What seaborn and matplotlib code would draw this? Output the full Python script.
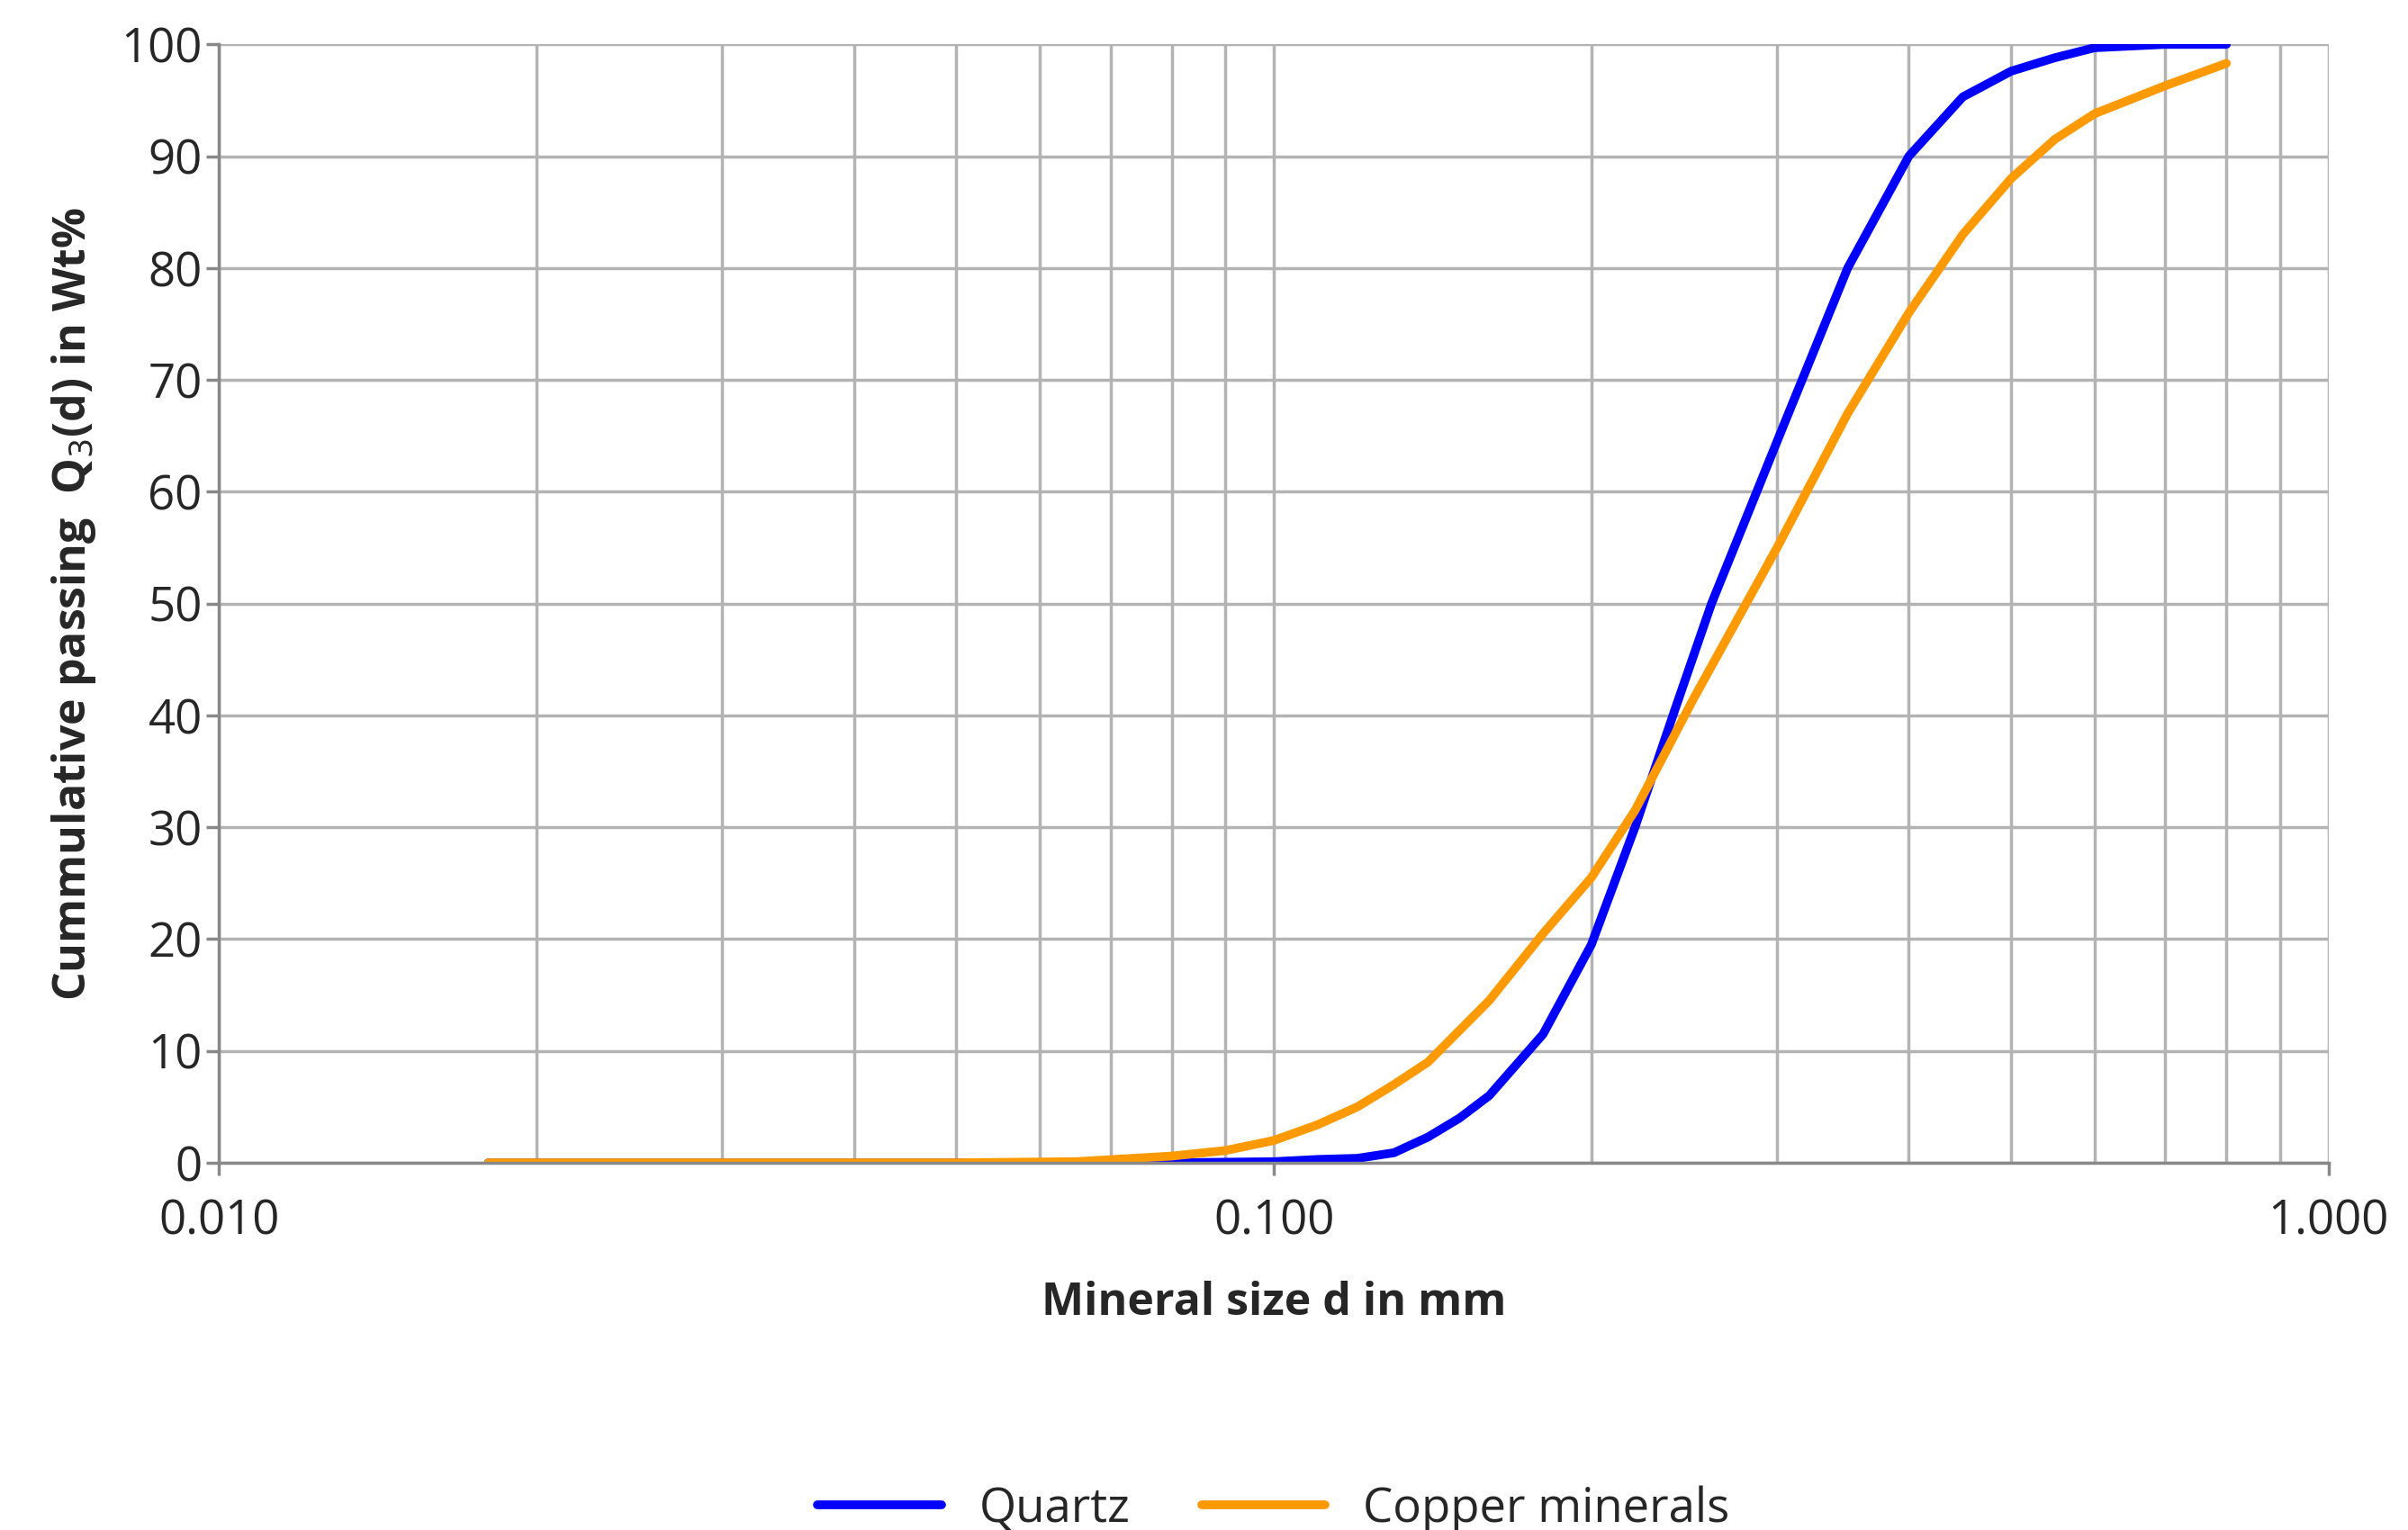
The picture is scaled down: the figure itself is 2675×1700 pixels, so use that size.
import matplotlib
matplotlib.use('Agg')
import matplotlib.pyplot as plt
import matplotlib.ticker as mticker
import seaborn as sns
import pandas as pd

# ── Data ──────────────────────────────────────────────────────────────────────
quartz_d = [0.018, 0.05, 0.08, 0.1, 0.11, 0.12, 0.13, 0.14, 0.15, 0.16, 0.18, 0.2,
            0.22, 0.24, 0.26, 0.28, 0.3, 0.35, 0.4, 0.45, 0.5, 0.55, 0.6, 0.7, 0.8]
quartz_q = [0.0, 0.0, 0.0, 0.1, 0.3, 0.4, 0.9, 2.3, 4.0, 6.0, 11.5, 19.5,
            30.0, 40.5, 50.0, 57.5, 64.5, 80.0, 90.0, 95.3, 97.6, 98.8, 99.7, 100.0, 100.0]

copper_d = [0.018, 0.05, 0.065, 0.08, 0.09, 0.1, 0.11, 0.12, 0.13, 0.14, 0.16, 0.18, 0.2,
            0.22, 0.25, 0.3, 0.35, 0.4, 0.45, 0.5, 0.55, 0.6, 0.7, 0.8]
copper_q = [0.0, 0.0, 0.1, 0.6, 1.1, 2.0, 3.4, 5.0, 7.0, 9.0, 14.5, 20.5, 25.5,
            31.5, 41.5, 55.0, 67.0, 76.0, 83.0, 88.0, 91.5, 93.8, 96.3, 98.3]

df = pd.concat([
    pd.DataFrame({"d": quartz_d, "Q": quartz_q, "mineral": "Quartz"}),
    pd.DataFrame({"d": copper_d, "Q": copper_q, "mineral": "Copper minerals"}),
])

sns.set_theme(style="white")
plt.rcParams['font.family'] = ['Open Sans', 'DejaVu Sans']

fig = plt.figure(figsize=(26.75, 17), dpi=100)
ax = fig.add_axes([0.091, 0.24, 0.876, 0.731])

sns.lineplot(data=df, x="d", y="Q", hue="mineral", ax=ax, linewidth=7,
             palette={"Quartz": "#0000ff", "Copper minerals": "#ff9900"},
             estimator=None, sort=False)

ax.set_xscale("log")
ax.set_xlim(0.01, 1.0)
ax.set_ylim(0, 100)
ax.set_yticks(range(0, 101, 10))
ax.xaxis.set_major_locator(mticker.FixedLocator([0.01, 0.1, 1.0]))
ax.xaxis.set_major_formatter(mticker.FuncFormatter(lambda v, p: f"{v:.3f}"))
ax.xaxis.set_minor_locator(mticker.LogLocator(base=10, subs=range(2, 10)))
ax.xaxis.set_minor_formatter(mticker.NullFormatter())
ax.grid(True, which="both", axis="x", color="#b3b3b3", linewidth=2.5)
ax.grid(True, which="major", axis="y", color="#b3b3b3", linewidth=2.5)
ax.set_axisbelow(True)
for s in ["top", "right"]:
    ax.spines[s].set_visible(False)
for s in ["left", "bottom"]:
    ax.spines[s].set_color("#888888")
    ax.spines[s].set_linewidth(2.5)
ax.tick_params(axis="both", which="major", labelsize=38, length=10, width=2.5,
               color="#888888", direction="out", bottom=True, left=True)
ax.tick_params(axis="x", pad=18)

ax.set_xlabel("Mineral size d in mm", fontsize=36, fontweight="bold", labelpad=28)
ax.set_ylabel("Cummulative passing  Q$_3$(d) in Wt%", fontsize=36,
              fontweight="bold", labelpad=18)

ax.legend(title=None, loc="upper center", bbox_to_anchor=(0.5, -0.25),
          ncol=2, frameon=False, fontsize=38, handlelength=2.6,
          columnspacing=1.5)

plt.savefig("out.png", dpi=100)
